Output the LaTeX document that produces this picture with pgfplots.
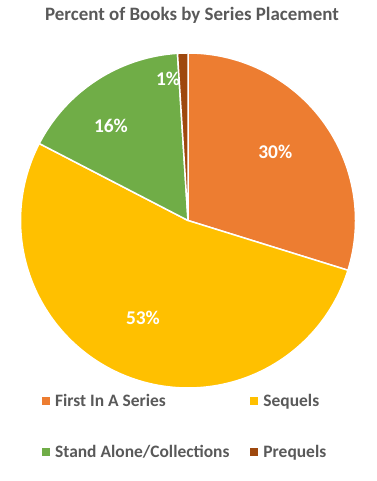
\documentclass[border=0pt]{standalone}
\usepackage{pgfplots}
\pgfplotsset{compat=1.18}
\usepackage{pgfplotstable}
\usepackage{fontspec}
\setmainfont{Carlito}
\definecolor{c0}{HTML}{ED7D31}
\definecolor{c1}{HTML}{FFC000}
\definecolor{c2}{HTML}{70AD47}
\definecolor{c3}{HTML}{9E480E}
\definecolor{txt}{HTML}{595959}

\pgfplotstableread[col sep=comma]{
label,value
First In A Series,29.8
Sequels,52.8
Stand Alone/Collections,16.4
Prequels,1.0
}\piedata

\begin{document}
\begin{tikzpicture}[x=1bp,y=1bp]
\useasboundingbox (0,0) rectangle (376,481);
\begin{axis}[
  at={(20.5bp,93bp)}, anchor=south west,
  scale only axis, width=335bp, height=335bp,
  xmin=-1, xmax=1, ymin=-1, ymax=1,
  hide axis, clip=false,
  title={Percent of Books by Series Placement},
  title style={at={(axis description cs:0.512,1.095)}, anchor=center,
    font=\bfseries\fontsize{19}{22}\selectfont, text=txt, inner sep=0pt},
  legend entries={First In A Series, Sequels, Stand Alone/Collections, Prequels},
  legend columns=2,
  legend cell align=left,
  legend image code/.code={\fill[#1, draw=none] (0bp,-4bp) rectangle (8bp,4bp);},
  legend style={draw=none, fill=none, inner sep=0pt,
    at={(axis description cs:0.064,-0.013)}, anchor=north west,
    font=\bfseries\fontsize{17.5}{20}\selectfont, text=txt,
    row sep=33bp,
    /tikz/every odd column/.append style={column sep=3bp},
    /tikz/every even column/.append style={column sep=19bp}},
]
\pgfmathsetmacro\cum{0}
\pgfplotsforeachungrouped \i in {0,1,2,3}{%
  \pgfplotstablegetelem{\i}{value}\of\piedata
  \pgfmathsetmacro\a{90-3.6*\cum}%
  \pgfmathsetmacro\cum{\cum+\pgfplotsretval}%
  \pgfmathsetmacro\b{90-3.6*\cum}%
  \edef\doplot{\noexpand\addplot[fill=c\i, draw=white, line width=1.5bp, line join=round,
    domain=\b:\a, samples=120, variable=\noexpand\t]
    ({cos(\noexpand\t)},{sin(\noexpand\t)}) -- (axis cs:0,0) -- cycle;}%
  \doplot
}
\begin{scope}[every node/.style={text=white, font=\bfseries\fontsize{19.5}{22}\selectfont, inner sep=0pt}]
\node at (axis cs:0.521,0.412) {30\%};
\node at (axis cs:-0.269,-0.579) {53\%};
\node at (axis cs:-0.460,0.567) {16\%};
\node at (axis cs:-0.119,0.845) {1\%};
\end{scope}
\end{axis}
\end{tikzpicture}
\end{document}
